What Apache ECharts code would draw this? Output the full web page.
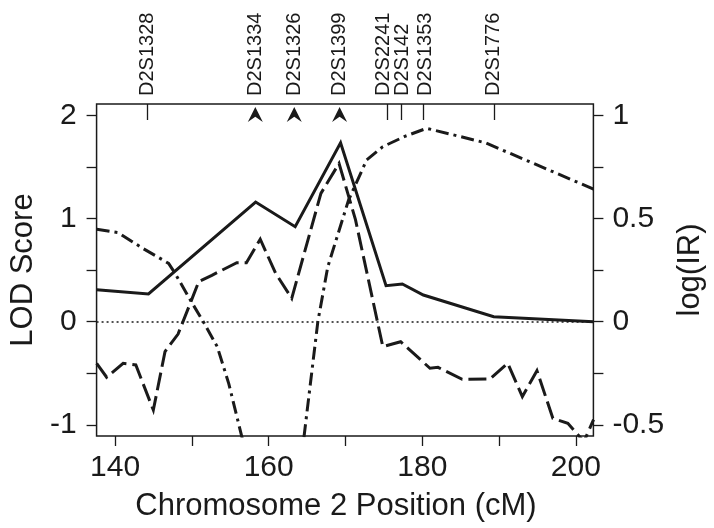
<!DOCTYPE html>
<html>
<head>
<meta charset="utf-8">
<script src="https://cdn.jsdelivr.net/npm/echarts@6/dist/echarts.min.js"></script>
<style>
html,body{margin:0;padding:0;background:#fff;}
#chart{width:714px;height:528px;}
</style>
</head>
<body>
<div id="chart"></div>
<script>
// ---- data (cM positions and values) ----
const solidPos = [137.6, 144.35, 158.3, 163.45, 169.36, 175.28, 177.4, 180.14, 189.3, 202.3];
const solidLod = [0.31, 0.269, 1.161, 0.922, 1.736, 0.349, 0.366, 0.259, 0.049, 0.0];

const dashedPos = [137.6, 138.9, 141.05, 142.7, 144.98, 146.5, 148.2, 149.9, 150.9, 152.6, 155.85, 157.1, 158.9, 160.9, 163.0, 166.8, 169.16, 171.3, 174.86, 177.18, 181.0, 182.04, 185.2, 188.8, 191.13, 193.03, 194.93, 197.0, 198.95, 201.05, 202.3];
const dashedLod = [-0.404, -0.539, -0.404, -0.42, -0.857, -0.29, -0.12, 0.2, 0.39, 0.45, 0.572, 0.572, 0.8, 0.47, 0.227, 1.245, 1.536, 0.99, -0.242, -0.194, -0.452, -0.443, -0.559, -0.556, -0.404, -0.727, -0.475, -0.937, -0.986, -1.164, -0.95];

const irPos = [137.6, 140.4, 143.6, 146.97, 147.8, 149.93, 151.6, 153.3, 154.8, 156.5, 158.5, 161.0, 163.5, 164.6, 166.4, 167.7, 170.4, 172.75, 174.86, 177.8, 180.57, 188.2, 202.3];
const logIR = [0.448, 0.432, 0.356, 0.283, 0.235, 0.097, -0.008, -0.121, -0.3, -0.558, -0.85, -1.0, -0.9, -0.558, 0.0, 0.267, 0.59, 0.784, 0.849, 0.90, 0.938, 0.868, 0.643];

const markerNames = ['D2S1328', 'D2S1334', 'D2S1326', 'D2S1399', 'D2S2241', 'D2S142', 'D2S1353', 'D2S1776'];
const markerPos = [144.22, 158.26, 163.33, 169.23, 175.41, 177.27, 180.14, 189.32];
const arrowMarkers = ['D2S1334', 'D2S1326', 'D2S1399'];

const xTickLabels = [140, 160, 180, 200];
const xMinorTicks = [140, 150, 160, 170, 180, 190, 200];
const lodTickLabels = [-1, 0, 1, 2];
const lodMinorTicks = [-1, -0.5, 0, 0.5, 1, 1.5, 2];
const irTickLabels = [-0.5, 0, 0.5, 1];
const irMinorTicks = [-0.5, -0.25, 0, 0.25, 0.5, 0.75, 1];

// ---- layout / style ----
const INK = '#1a1a1a';
const FONT = "'Liberation Sans', Arial, Helvetica, sans-serif";
const X_MIN = 137.59, X_MAX = 202.28;
const Y_MIN = -1.109, Y_MAX = 2.112;
const GRID = {left: 92.7, right: 110.7, top: 104, bottom: 92};
const PX_PER_CM = (714 - GRID.left - GRID.right) / (X_MAX - X_MIN);
// small horizontal nudges (px) that keep the crowded marker names apart, as in the reference
const LABEL_NUDGE_PX = {D2S2241: -3.5, D2S142: 1, D2S1353: 2};

const zip = (a, b) => a.map((v, i) => [v, b[i]]);
const plainMarkers = markerPos.filter((p, i) => arrowMarkers.indexOf(markerNames[i]) < 0);
const arrowPos = markerPos.filter((p, i) => arrowMarkers.indexOf(markerNames[i]) >= 0);
const labelPos = markerPos.map((p, i) => p + (LABEL_NUDGE_PX[markerNames[i]] || 0) / PX_PER_CM);

function markerName(v) {
  let best = 0, d = Infinity;
  labelPos.forEach((p, i) => { if (Math.abs(p - v) < d) { d = Math.abs(p - v); best = i; } });
  return markerNames[best];
}

const chart = echarts.init(document.getElementById('chart'), null, {renderer: 'canvas'});
chart.setOption({
  animation: false,
  backgroundColor: '#fff',
  grid: Object.assign({show: true, borderColor: INK, borderWidth: 1.5, backgroundColor: 'transparent'}, GRID),
  xAxis: [
    {
      type: 'value', min: X_MIN, max: X_MAX, position: 'bottom',
      name: 'Chromosome 2 Position (cM)', nameLocation: 'middle', nameGap: 55,
      nameTextStyle: {fontFamily: FONT, fontSize: 31, color: INK, padding: [0, 18, 0, 0]},
      axisLine: {show: false, onZero: false},
      splitLine: {show: false},
      axisTick: {show: true, length: 10, lineStyle: {color: INK, width: 1.3}, customValues: xMinorTicks},
      axisLabel: {show: true, margin: 17, fontFamily: FONT, fontSize: 30, color: INK, customValues: xTickLabels}
    },
    {
      type: 'value', min: X_MIN, max: X_MAX, position: 'top',
      axisLine: {show: false, onZero: false},
      splitLine: {show: false},
      axisTick: {show: true, inside: true, length: 16, lineStyle: {color: INK, width: 1.3}, customValues: plainMarkers},
      axisLabel: {show: true, rotate: -90, margin: 8, fontFamily: FONT, fontSize: 20, color: INK, customValues: labelPos, hideOverlap: false, formatter: markerName}
    }
  ],
  yAxis: [
    {
      type: 'value', min: Y_MIN, max: Y_MAX, position: 'left',
      name: 'LOD Score', nameLocation: 'middle', nameGap: 54, nameRotate: 90,
      nameTextStyle: {fontFamily: FONT, fontSize: 31, color: INK},
      axisLine: {show: false, onZero: false},
      splitLine: {show: false},
      axisTick: {show: true, length: 10, lineStyle: {color: INK, width: 1.3}, customValues: lodMinorTicks},
      axisLabel: {show: true, margin: 20, fontFamily: FONT, fontSize: 30, color: INK, customValues: lodTickLabels}
    },
    {
      type: 'value', min: Y_MIN / 2, max: Y_MAX / 2, position: 'right',
      name: 'log(IR)', nameLocation: 'middle', nameGap: 73, nameRotate: 90,
      nameTextStyle: {fontFamily: FONT, fontSize: 31, color: INK},
      axisLine: {show: false, onZero: false},
      splitLine: {show: false},
      axisTick: {show: true, length: 10, lineStyle: {color: INK, width: 1.3}, customValues: irMinorTicks},
      axisLabel: {show: true, margin: 19, fontFamily: FONT, fontSize: 30, color: INK, customValues: irTickLabels}
    }
  ],
  series: [
    {
      name: 'LOD (solid)', type: 'line', xAxisIndex: 0, yAxisIndex: 0,
      data: zip(solidPos, solidLod), showSymbol: false, symbol: 'none',
      lineStyle: {color: INK, width: 3, join: 'miter', cap: 'butt'},
      markLine: {
        silent: true, symbol: 'none', label: {show: false},
        lineStyle: {color: INK, width: 1.5, type: [2, 3]},
        data: [{yAxis: 0}]
      }
    },
    {
      name: 'LOD (dashed)', type: 'line', xAxisIndex: 0, yAxisIndex: 0,
      data: zip(dashedPos, dashedLod), showSymbol: false, symbol: 'none',
      lineStyle: {color: INK, width: 3, type: [18, 6], join: 'miter', cap: 'butt'}
    },
    {
      name: 'log(IR)', type: 'line', xAxisIndex: 0, yAxisIndex: 1,
      data: zip(irPos, logIR), showSymbol: false, symbol: 'none',
      lineStyle: {color: INK, width: 3, type: [13, 5, 3, 5], join: 'miter', cap: 'butt'}
    },
    {
      name: 'markers', type: 'scatter', xAxisIndex: 0, yAxisIndex: 0, clip: false,
      data: arrowPos.map(p => [p, Y_MAX]),
      symbol: 'path://M0,0 L7,14 L0,9 L-7,14 Z', symbolSize: [15, 15], symbolOffset: [0, 10.5],
      itemStyle: {color: INK, opacity: 1}
    }
  ]
});
</script>
</body>
</html>
